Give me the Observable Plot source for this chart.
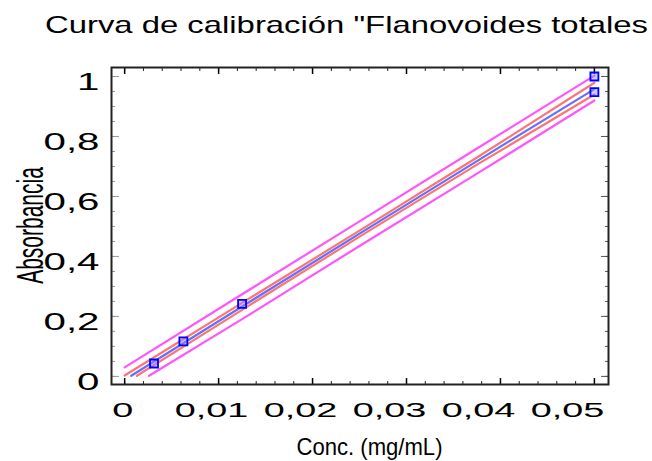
<!DOCTYPE html>
<html><head><meta charset="utf-8">
<script src="https://cdn.jsdelivr.net/npm/d3@7"></script>
<script src="https://cdn.jsdelivr.net/npm/@observablehq/plot@0.6"></script>
<style>body{margin:0;background:#fff} svg{display:block}</style>
</head><body><div id="chart"></div>
<script>
const titleText = 'Curva de calibración "Flanovoides totales';
const xLabel = "Conc. (mg/mL)";
const yLabel = "Absorbancia";
const xTicks = [0, 0.01, 0.02, 0.03, 0.04, 0.05];
const yTicks = [0, 0.2, 0.4, 0.6, 0.8, 1];

// observed points
const concX = [0.003125, 0.00625, 0.0125, 0.05, 0.05];
const absY  = [0.043, 0.117, 0.242, 0.948, 1.0];

// fitted line
const fitX = [0.0007, 0.0125, 0.025, 0.0375, 0.05];
const fitY = [0.002, 0.233, 0.476, 0.718, 0.958];
// confidence limits
const confUpX = [0, 0.0125, 0.025, 0.0375, 0.05];
const confUpY = [0.003, 0.245, 0.486, 0.730, 0.979];
const confLoX = [0.0013, 0.0125, 0.025, 0.0375, 0.05];
const confLoY = [0.002, 0.222, 0.466, 0.706, 0.940];
// prediction limits
const predUpX = [0, 0.0125, 0.025, 0.0375, 0.05];
const predUpY = [0.030, 0.274, 0.517, 0.760, 1.003];
const predLoX = [0.0026, 0.0125, 0.025, 0.0375, 0.05];
const predLoY = [0.002, 0.191, 0.435, 0.676, 0.920];

const rows = (xs, ys) => xs.map((x, i) => ({x, y: ys[i]}));
const points = rows(concX, absY);
const fit = rows(fitX, fitY);
const confUp = rows(confUpX, confUpY), confLo = rows(confLoX, confLoY);
const predUp = rows(predUpX, predUpY), predLo = rows(predLoX, predLoY);

const xMinor = d3.ticks(0, 0.05, 25);
const yMinor = d3.ticks(0, 1, 20);
const fmt = d => String(d).replace(".", ",");

const xLabelAxes = xTicks.map((t, i) => Plot.axisX([t], {
  anchor: "bottom", tickSize: 0, tickPadding: 18, fontSize: 21, dx: -2 - 5 * i,
  tickFormat: fmt, label: null, fill: "#000"
}));

const svg = Plot.plot({
  width: 652, height: 461,
  marginLeft: 111, marginRight: 44, marginTop: 67, marginBottom: 77,
  style: {fontFamily: "'Liberation Sans', Arial, sans-serif", background: "#fff", color: "#000"},
  x: {domain: [-0.0014, 0.0515]},
  y: {domain: [-0.027, 1.03]},
  marks: [
    Plot.axisX(xMinor, {anchor: "bottom", tickSize: -3, fill: "none", label: null, stroke: "#222"}),
    Plot.axisX(xTicks, {anchor: "bottom", tickSize: -6, fill: "none", label: null, stroke: "#000", strokeWidth: 1.5}),
    Plot.axisX(xMinor, {anchor: "top", tickSize: -3, fill: "none", label: null, stroke: "#222"}),
    Plot.axisX(xTicks, {anchor: "top", tickSize: -6, fill: "none", label: null, stroke: "#000", strokeWidth: 1.5}),
    Plot.axisY(yMinor, {anchor: "left", tickSize: -4, fill: "none", label: null, stroke: "#999"}),
    Plot.axisY(yTicks, {anchor: "left", tickSize: -8, fill: "none", label: null, stroke: "#999"}),
    Plot.axisY(yMinor, {anchor: "right", tickSize: -4, fill: "none", label: null, stroke: "#555"}),
    Plot.axisY(yTicks, {anchor: "right", tickSize: -8, fill: "none", label: null, stroke: "#555"}),
    ...xLabelAxes,
    Plot.axisY(yTicks, {anchor: "left", tickSize: 0, tickPadding: 12, fontSize: 23, dy: 6,
      tickFormat: fmt, label: null, fill: "#000"}),
    Plot.frame({stroke: "#222", strokeWidth: 2}),
    Plot.line(predUp, {x: "x", y: "y", stroke: "#ff55ff", strokeWidth: 2.2}),
    Plot.line(predLo, {x: "x", y: "y", stroke: "#ff55ff", strokeWidth: 2.2}),
    Plot.line(confUp, {x: "x", y: "y", stroke: "#ff5050", strokeWidth: 2.2, strokeOpacity: 0.8}),
    Plot.line(confLo, {x: "x", y: "y", stroke: "#ff5050", strokeWidth: 2.2, strokeOpacity: 0.8}),
    Plot.line(fit, {x: "x", y: "y", stroke: "#5060ff", strokeWidth: 2.2, strokeOpacity: 0.9}),
    Plot.dot(points, {x: "x", y: "y", symbol: "square", r: 4.5, stroke: "#0000ff", strokeWidth: 1.8,
      fill: "#8c8cff", fillOpacity: 0.45})
  ]
});

const s = d3.select(svg);
s.selectAll('[aria-label="x-axis tick label"] text').each(function() {
  this.setAttribute("transform", (this.getAttribute("transform") || "") + " scale(1.8,1)");
});
s.selectAll('[aria-label="y-axis tick label"] text').each(function() {
  this.setAttribute("transform", (this.getAttribute("transform") || "") + " scale(1.75,1)");
});
s.append("text").text(titleText)
  .attr("x", 45).attr("y", 33).attr("font-size", 24).attr("fill", "#000")
  .attr("text-anchor", "start")
  .attr("textLength", 603).attr("lengthAdjust", "spacingAndGlyphs");
s.append("text").text(xLabel)
  .attr("x", 369.5).attr("y", 455).attr("font-size", 24).attr("fill", "#000")
  .attr("text-anchor", "middle")
  .attr("textLength", 146).attr("lengthAdjust", "spacingAndGlyphs");
s.append("text").text(yLabel)
  .attr("transform", "translate(43,225.5) rotate(-90) scale(1,1.8)")
  .attr("font-size", 21).attr("fill", "#000").attr("text-anchor", "middle");

document.getElementById("chart").appendChild(svg);
</script>
</body></html>
